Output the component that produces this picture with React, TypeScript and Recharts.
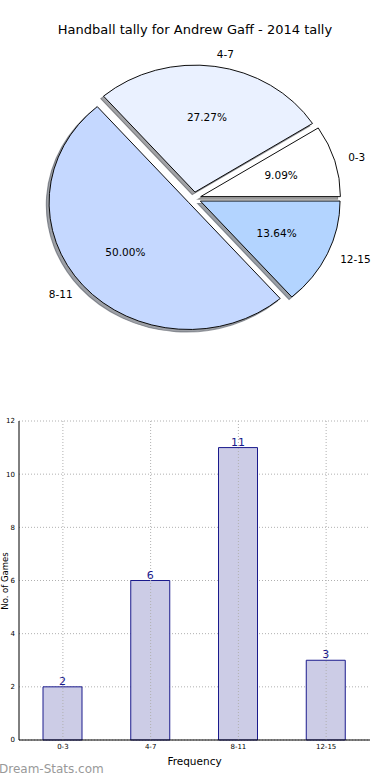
import React from 'react';
import {
  PieChart,
  Pie,
  Cell,
  BarChart,
  Bar,
  XAxis,
  YAxis,
  CartesianGrid,
  ReferenceLine,
  LabelList,
  Label,
} from 'recharts';

const CATEGORIES = ['0-3', '4-7', '8-11', '12-15'];
const COUNTS = [2, 6, 11, 3];
const PIE_COLORS = ['#ffffff', '#eaf1ff', '#c5d8ff', '#b3d4ff'];
const Y_TICKS = [0, 2, 4, 6, 8, 10, 12];

const pieData = CATEGORIES.map((name, i) => ({ name, value: COUNTS[i] }));
const barData = CATEGORIES.map((name, i) => ({ name, count: COUNTS[i] }));

// pie geometry (matplotlib style: exploded wedges, drop shadow, stretched horizontally)
const CX = 194;
const CY = 198.4;
const R = 127;
const STRETCH = 1.1;
const EXPLODE = 0.05 * R;
const SHADOW = 0.02 * R;

const total = COUNTS.reduce((a, b) => a + b, 0);
const midAngles = COUNTS.map((v, i) => {
  const before = COUNTS.slice(0, i).reduce((a, b) => a + b, 0);
  return ((before + v / 2) / total) * 360;
});

const shade = (hex: string) => {
  const n = parseInt(hex.slice(1), 16);
  const r = Math.round(((n >> 16) & 255) * 0.3);
  const g = Math.round(((n >> 8) & 255) * 0.3);
  const b = Math.round((n & 255) * 0.3);
  return `rgb(${r},${g},${b})`;
};

const RAD = Math.PI / 180;

function makeLabel(k: number) {
  return (props: any) => {
    if (props.index !== k) return <g />;
    const { cx, cy, midAngle, outerRadius, percent, name } = props;
    const cos = Math.cos(-midAngle * RAD);
    const sin = Math.sin(-midAngle * RAD);
    const nx = cx + outerRadius * 1.1 * cos;
    const ny = cy + outerRadius * 1.1 * sin;
    const px = cx + outerRadius * 0.6 * cos;
    const py = cy + outerRadius * 0.6 * sin;
    const unstretch = (x: number, y: number) =>
      `translate(${x} ${y}) scale(${1 / STRETCH} 1) translate(${-x} ${-y})`;
    return (
      <g>
        <text
          x={nx}
          y={ny}
          transform={unstretch(nx, ny)}
          textAnchor={cos > 0 ? 'start' : 'end'}
          dominantBaseline="central"
          fontSize={10.5}
          fill="#000"
        >
          {name}
        </text>
        <text
          x={px}
          y={py}
          transform={unstretch(px, py)}
          textAnchor="middle"
          dominantBaseline="central"
          fontSize={10.5}
          fill="#000"
        >
          {(percent * 100).toFixed(2)}%
        </text>
      </g>
    );
  };
}

export default function App() {
  const shadows = CATEGORIES.map((_, k) => {
    const dx = EXPLODE * Math.cos(midAngles[k] * RAD);
    const dy = -EXPLODE * Math.sin(midAngles[k] * RAD);
    return (
      <Pie
        key={`s${k}`}
        data={pieData}
        dataKey="value"
        nameKey="name"
        cx={CX + dx - SHADOW}
        cy={CY + dy + SHADOW}
        outerRadius={R}
        isAnimationActive={false}
        labelLine={false}
      >
        {pieData.map((d, i) => (
          <Cell
            key={d.name}
            fill={i === k ? shade(PIE_COLORS[i]) : 'none'}
            fillOpacity={0.5}
            stroke={i === k ? shade(PIE_COLORS[i]) : 'none'}
            strokeOpacity={0.5}
          />
        ))}
      </Pie>
    );
  });

  const wedges = CATEGORIES.map((_, k) => {
    const dx = EXPLODE * Math.cos(midAngles[k] * RAD);
    const dy = -EXPLODE * Math.sin(midAngles[k] * RAD);
    return (
      <Pie
        key={`w${k}`}
        data={pieData}
        dataKey="value"
        nameKey="name"
        cx={CX + dx}
        cy={CY + dy}
        outerRadius={R}
        isAnimationActive={false}
        labelLine={false}
        label={makeLabel(k)}
      >
        {pieData.map((d, i) => (
          <Cell
            key={d.name}
            fill={i === k ? PIE_COLORS[i] : 'none'}
            stroke={i === k ? '#000' : 'none'}
            strokeWidth={0.9}
          />
        ))}
      </Pie>
    );
  });

  return (
    <div
      style={{
        position: 'absolute',
        left: 0,
        top: 0,
        width: 390,
        height: 780,
        overflow: 'hidden',
        background: '#fff',
        fontFamily: '"DejaVu Sans", sans-serif',
      }}
    >
      <div
        style={{
          position: 'absolute',
          left: 0,
          top: 0,
          transform: `scaleX(${STRETCH})`,
          transformOrigin: `${CX}px 0px`,
        }}
      >
        <PieChart width={390} height={360} margin={{ top: 0, right: 0, bottom: 0, left: 0 }}>
          {shadows}
          {wedges}
        </PieChart>
      </div>

      <div
        style={{
          position: 'absolute',
          left: 0,
          top: 22,
          width: 390,
          textAlign: 'center',
          fontSize: 13,
          lineHeight: '15px',
          color: '#000',
        }}
      >
        Handball tally for Andrew Gaff - 2014 tally
      </div>

      <div style={{ position: 'absolute', left: 0, top: 400 }}>
        <BarChart
          width={390}
          height={380}
          data={barData}
          margin={{ top: 21, right: 20, bottom: 10, left: 0 }}
          barSize={39}
        >
          <CartesianGrid vertical={false} stroke="#b0b0b0" strokeDasharray="1 2" />
          <XAxis
            dataKey="name"
            height={30}
            tickSize={0}
            tickMargin={4}
            tick={{ fontSize: 7, fill: '#000' }}
            axisLine={{ stroke: '#000' }}
          >
            <Label value="Frequency" position="insideBottom" offset={5} fontSize={10.5} fill="#000" />
          </XAxis>
          <XAxis xAxisId="top" orientation="top" dataKey="name" height={0} tick={false} tickLine={false} axisLine={{ stroke: '#000' }} />
          <YAxis
            width={19}
            domain={[0, 12]}
            ticks={Y_TICKS}
            tickSize={0}
            tickMargin={4}
            tick={{ fontSize: 7, fill: '#000' }}
            axisLine={{ stroke: '#000' }}
          />
          <YAxis yAxisId="right" orientation="right" width={0} domain={[0, 12]} tick={false} tickLine={false} axisLine={{ stroke: '#000' }} />
          <Bar dataKey="count" fill="#ccccE6" stroke="#1a1a8c" strokeWidth={1} isAnimationActive={false}>
            <LabelList dataKey="count" position="top" offset={2} fontSize={11} fill="#1a1a8c" />
          </Bar>
          {CATEGORIES.map((c) => (
            <ReferenceLine key={c} x={c} stroke="#b0b0b0" strokeDasharray="1 2" />
          ))}
        </BarChart>
      </div>

      <div
        style={{
          position: 'absolute',
          left: 5,
          top: 581,
          width: 0,
          height: 0,
        }}
      >
        <div
          style={{
            position: 'absolute',
            left: 0,
            top: 0,
            transform: 'translate(-50%, -50%) rotate(-90deg)',
            fontSize: 8.5,
            lineHeight: '10px',
            whiteSpace: 'nowrap',
            color: '#000',
          }}
        >
          No. of Games
        </div>
      </div>

      <div
        style={{
          position: 'absolute',
          left: -1,
          top: 762,
          fontSize: 12,
          lineHeight: '15px',
          color: '#999',
        }}
      >
        Dream-Stats.com
      </div>
    </div>
  );
}
